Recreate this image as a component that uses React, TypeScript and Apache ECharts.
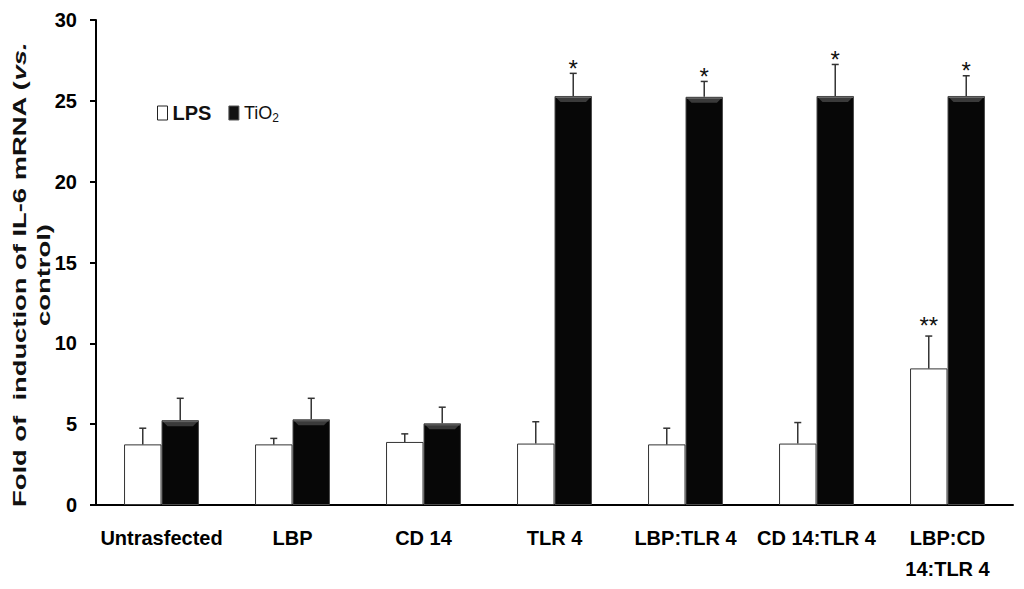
import React, { useEffect, useRef } from "react";
import * as echarts from "echarts";

const categories = [
  "Untrasfected",
  "LBP",
  "CD 14",
  "TLR 4",
  "LBP:TLR 4",
  "CD 14:TLR 4",
  "LBP:CD\n14:TLR 4",
];
const lpsValues = [3.75, 3.75, 3.9, 3.8, 3.75, 3.8, 8.45];
const lpsErrors = [1.0, 0.37, 0.5, 1.35, 1.0, 1.3, 2.0];
const tioValues = [5.25, 5.3, 5.05, 25.3, 25.25, 25.3, 25.3];
const tioErrors = [1.35, 1.3, 1.0, 1.4, 0.95, 1.95, 1.25];
const lpsStars = ["", "", "", "", "", "", "**"];
const tioStars = ["", "", "", "*", "*", "*", "*"];
const yTicks = { min: 0, max: 30, interval: 5 };

const SANS = "'Liberation Sans', Arial, sans-serif";
const BAR_FRAC = 0.286;

function errSeries(name: string, values: number[], errors: number[], stars: string[], sign: number, bevel: boolean) {
  return {
    type: "custom",
    name: name + "_err",
    z: 5,
    silent: true,
    data: values.map((v, i) => [i, v, errors[i]]),
    renderItem: (params: any, api: any) => {
      const idx = api.value(0);
      const v = api.value(1);
      const e = api.value(2);
      const base = api.coord([idx, v]);
      const top = api.coord([idx, v + e]);
      const band = api.size([1, 0])[0];
      const bw = band * BAR_FRAC;
      const x = base[0] + (sign * bw) / 2;
      const children: any[] = [];
      if (bevel) {
        const x0 = x - bw / 2 + 1;
        const x1 = x + bw / 2 - 1;
        children.push({
          type: "polygon",
          shape: { points: [[x0, base[1] + 1], [x1, base[1] + 1], [x1 - 5, base[1] + 6], [x0 + 5, base[1] + 6]] },
          style: { fill: "#3a3a3a" },
        });
        children.push({
          type: "line",
          shape: { x1: x0, y1: base[1] + 1.5, x2: x1, y2: base[1] + 1.5 },
          style: { stroke: "#6a6a6a", lineWidth: 1 },
        });
      }
      children.push({
        type: "line",
        shape: { x1: x, y1: base[1], x2: x, y2: top[1] },
        style: { stroke: "#333", lineWidth: 1.5 },
      });
      children.push({
        type: "line",
        shape: { x1: x - 3.5, y1: top[1], x2: x + 3.5, y2: top[1] },
        style: { stroke: "#333", lineWidth: 1.5 },
      });
      const s = stars[params.dataIndex];
      if (s) {
        children.push({
          type: "text",
          x: x,
          y: top[1] - (s.length > 1 ? 11 : 5),
          style: {
            text: s,
            fill: "#111",
            font: "normal 24px " + SANS,
            align: "center",
            verticalAlign: "middle",
          },
        });
      }
      return { type: "group", children };
    },
  };
}

export default function App() {
  const ref = useRef<HTMLDivElement>(null);
  useEffect(() => {
    if (!ref.current) return;
    const chart = echarts.init(ref.current, undefined, { renderer: "svg" });
    chart.setOption({
      animation: false,
      backgroundColor: "#fff",
      grid: { left: 96, right: 11, top: 20, bottom: 84, containLabel: false },
      legend: {
        left: 157,
        top: 103,
        padding: 0,
        itemWidth: 10,
        itemHeight: 14,
        itemGap: 17,
        icon: "rect",
        data: [
          { name: "LPS", itemStyle: { color: "#fff", borderColor: "#222", borderWidth: 1 } },
          { name: "TiO2", itemStyle: { color: "#111", borderColor: "#555", borderWidth: 1 } },
        ],
        formatter: (n: string) => (n === "TiO2" ? "{a|TiO}{s|2}" : "{b|LPS}"),
        textStyle: {
          rich: {
            b: { fontFamily: SANS, fontWeight: "bold", fontSize: 20, color: "#111", lineHeight: 22 },
            a: { fontFamily: SANS, fontWeight: "normal", fontSize: 18, color: "#111", lineHeight: 22 },
            s: { fontFamily: SANS, fontWeight: "normal", fontSize: 12, color: "#111", lineHeight: 22, verticalAlign: "bottom", padding: [8, 0, 0, 0] },
          },
        },
      },
      xAxis: {
        type: "category",
        data: categories,
        axisLine: { lineStyle: { color: "#000", width: 2 } },
        axisTick: { inside: true, length: 7, lineStyle: { color: "#000", width: 2 } },
        axisLabel: {
          interval: 0,
          margin: 17,
          fontFamily: SANS,
          fontWeight: "bold",
          fontSize: 20,
          lineHeight: 31,
          color: "#000",
        },
      },
      yAxis: {
        type: "value",
        min: yTicks.min,
        max: yTicks.max,
        interval: yTicks.interval,
        splitLine: { show: false },
        axisLine: { show: true, lineStyle: { color: "#000", width: 2 } },
        axisTick: { show: true, length: 6, lineStyle: { color: "#000", width: 2 } },
        axisLabel: {
          margin: 19,
          fontFamily: SANS,
          fontWeight: "bold",
          fontSize: 20,
          color: "#000",
        },
      },
      graphic: [
        {
          type: "text",
          x: 32,
          y: 275,
          rotation: Math.PI / 2,
          scaleX: 1.44,
          style: {
            text: "{a|Fold of  induction of IL-6 mRNA (}{i|vs.}\n{a|control)}",
            align: "center",
            verticalAlign: "middle",
            rich: {
              a: { fontFamily: SANS, fontWeight: "bold", fontSize: 19, fill: "#111", lineHeight: 24, align: "center" },
              i: { fontFamily: SANS, fontWeight: "bold", fontStyle: "italic", fontSize: 19, fill: "#111", lineHeight: 24 },
            },
          },
        },
      ],
      series: [
        {
          type: "bar",
          name: "LPS",
          data: lpsValues,
          barWidth: "28.6%",
          barGap: "0%",
          itemStyle: { color: "#fff", borderColor: "#333", borderWidth: 1 },
        },
        {
          type: "bar",
          name: "TiO2",
          data: tioValues,
          barWidth: "28.6%",
          barGap: "0%",
          itemStyle: { color: "#070707", borderColor: "#4a4a4a", borderWidth: 1 },
        },
        errSeries("LPS", lpsValues, lpsErrors, lpsStars, -1, false),
        errSeries("TiO2", tioValues, tioErrors, tioStars, 1, true),
      ],
    });
    return () => chart.dispose();
  }, []);
  return <div ref={ref} style={{ position: "absolute", left: 0, top: 0, width: 1024, height: 589 }} />;
}
